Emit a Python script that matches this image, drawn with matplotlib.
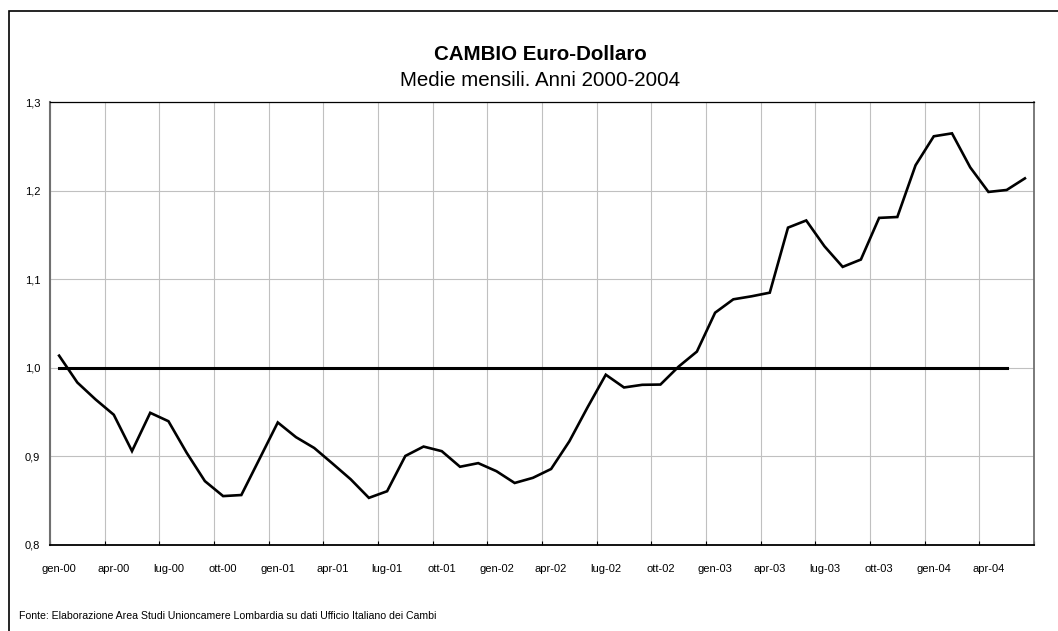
import matplotlib
matplotlib.use("Agg")
import matplotlib.pyplot as plt
from matplotlib.ticker import FixedLocator, FuncFormatter
from matplotlib.patches import Rectangle

plt.rcParams['font.family'] = ['Liberation Sans', 'DejaVu Sans']

months = ["gen", "feb", "mar", "apr", "mag", "giu", "lug", "ago", "set", "ott", "nov", "dic"]
years = ["00", "01", "02", "03", "04"]
categories = [f"{m}-{y}" for y in years for m in months][:54]

cambio = [1.0137, 0.9834, 0.9643, 0.9470, 0.9060, 0.9492, 0.9397, 0.9041, 0.8721, 0.8552, 0.8564, 0.8973,
          0.9383, 0.9217, 0.9095, 0.8920, 0.8742, 0.8532, 0.8607, 0.9005, 0.9111, 0.9059, 0.8883, 0.8924,
          0.8833, 0.8700, 0.8758, 0.8858, 0.9170, 0.9554, 0.9922, 0.9778, 0.9808, 0.9811, 1.0014, 1.0183,
          1.0622, 1.0773, 1.0807, 1.0848, 1.1582, 1.1663, 1.1372, 1.1139, 1.1222, 1.1692, 1.1702, 1.2286,
          1.2613, 1.2646, 1.2262, 1.1985, 1.2007, 1.2138]
parita = [1.0] * 53

yticks = [0.8, 0.9, 1.0, 1.1, 1.2, 1.3]

W, H = 1058, 631
fig = plt.figure(figsize=(W / 100, H / 100), dpi=100)
ax = fig.add_axes([50 / W, 1 - 545 / H, (1034 - 50) / W, (545 - 102) / H])

x = list(range(len(cambio)))
ax.plot(x, cambio, color='black', lw=1.9, solid_joinstyle='miter', zorder=3)
ax.plot(list(range(len(parita))), parita, color='black', lw=2.2, zorder=3)

ax.set_xlim(-0.5, len(categories) - 0.5)
ax.set_ylim(0.8, 1.3)

label_idx = list(range(0, len(categories), 3))
ax.xaxis.set_major_locator(FixedLocator(label_idx))
ax.set_xticklabels([categories[i] for i in label_idx])
ax.xaxis.set_minor_locator(FixedLocator([i - 0.5 for i in range(0, len(categories) + 1, 3)]))
ax.tick_params(axis='x', which='major', length=0, pad=13.5, labelsize=8)
ax.tick_params(axis='x', which='minor', direction='in', length=3, width=0.8, color='black')
ax.grid(True, axis='x', which='minor', color='#c0c0c0', lw=0.8, zorder=0)

ax.yaxis.set_major_locator(FixedLocator(yticks))
ax.yaxis.set_major_formatter(FuncFormatter(lambda v, p: f"{v:.1f}".replace('.', ',')))
ax.tick_params(axis='y', length=0, pad=7, labelsize=8)
ax.grid(True, axis='y', which='major', color='#c0c0c0', lw=0.8, zorder=0)

ax.spines['left'].set_color('#707070')
ax.spines['left'].set_linewidth(1.5)
ax.spines['right'].set_color('#707070')
ax.spines['right'].set_linewidth(1.3)
ax.spines['top'].set_color('black')
ax.spines['top'].set_linewidth(0.9)
ax.spines['bottom'].set_color('black')
ax.spines['bottom'].set_linewidth(1.3)

cx = (50 + 1034) / 2 / W
fig.text(cx - 2 / W, 1 - 54 / H, "CAMBIO Euro-Dollaro", ha='center', va='center', fontsize=14.8, fontweight='bold')
fig.text(cx - 2 / W, 1 - 81 / H, "Medie mensili. Anni 2000-2004", ha='center', va='center', fontsize=14.8)
fig.text(19 / W, 1 - 616 / H,
         "Fonte: Elaborazione Area Studi Unioncamere Lombardia su dati Ufficio Italiano dei Cambi",
         ha='left', va='center', fontsize=7.6)

fig.patches.append(Rectangle((9 / W, -0.1), 1.2, 1 - 11 / H + 0.1, transform=fig.transFigure,
                             fill=False, edgecolor='black', lw=1.2))

fig.savefig("out.png", dpi=100)
